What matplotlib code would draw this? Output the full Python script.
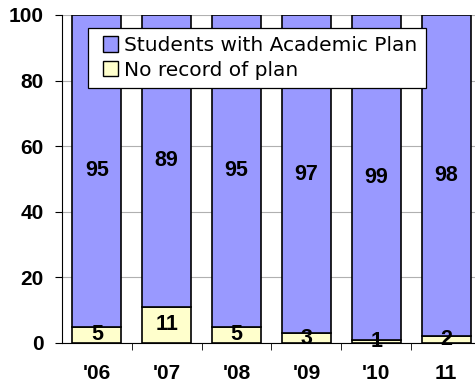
import numpy as np
import matplotlib
matplotlib.use('Agg')
import matplotlib.pyplot as plt
from matplotlib.patches import Patch, Rectangle
from matplotlib.legend_handler import HandlerPatch

plt.rcParams['font.family'] = ['Liberation Sans', 'DejaVu Sans']

years = ["'06", "'07", "'08", "'09", "'10", "11"]
no_plan = [5, 11, 5, 3, 1, 2]
with_plan = [95, 89, 95, 97, 99, 98]

fig = plt.figure(figsize=(4.75, 3.87), dpi=100)
ax = fig.add_axes([62/475., 1 - 343/387., 419/475., 328/387.])

x = np.arange(len(years))
ax.bar(x, no_plan, width=0.7, color='#FFFFCC', edgecolor='k', lw=1.2, zorder=3)
ax.bar(x, with_plan, width=0.7, bottom=no_plan, color='#9999FF', edgecolor='k', lw=1.2, zorder=3)

for i in range(len(years)):
    ax.text(x[i], no_plan[i]/2., str(no_plan[i]), ha='center', va='center',
            fontsize=15.5, fontweight='bold', zorder=5)
    ax.text(x[i], no_plan[i] + with_plan[i]/2., str(with_plan[i]), ha='center', va='center',
            fontsize=15.5, fontweight='bold', zorder=5)

ax.set_xlim(-0.5, 5.5)
ax.set_ylim(0, 100)
ax.set_yticks([0, 20, 40, 60, 80, 100])
ax.set_xticks(x)
ax.set_xticklabels(years, fontsize=15, fontweight='bold')
ax.set_xticks(np.arange(0.5, 5.5, 1), minor=True)
ax.tick_params(axis='x', which='major', length=0, pad=15)
ax.tick_params(axis='x', which='minor', length=5, direction='out')
ax.tick_params(axis='y', length=5, labelsize=15, pad=8)
for lab in ax.get_yticklabels():
    lab.set_fontweight('bold')
ax.yaxis.grid(True, color='#b0b0b0', lw=0.8, zorder=0)
ax.spines['top'].set_visible(False)
ax.spines['right'].set_visible(False)


# small square marker sitting at the right end of the handle slot
def square(legend, orig_handle, xdescent, ydescent, width, height, fontsize):
    s = 11
    return Rectangle((width - s - xdescent, -ydescent + (height - s) / 2.), s, s)


handles = [Patch(facecolor='#9999FF', edgecolor='k', label='Students with Academic Plan'),
           Patch(facecolor='#FFFFCC', edgecolor='k', label='No record of plan')]
leg = ax.legend(handles=handles, loc='upper left', bbox_to_anchor=(26/419., 1 - 13/328.),
                prop={'family': 'DejaVu Sans', 'size': 14.5}, frameon=True, fancybox=False,
                framealpha=1, handlelength=1.1, handleheight=0.7, handletextpad=0.3,
                borderpad=0.4, labelspacing=0.28, borderaxespad=0,
                handler_map={Patch: HandlerPatch(patch_func=square)})
leg.get_frame().set_edgecolor('k')
leg.get_frame().set_linewidth(0.9)
leg.set_zorder(6)

fig.savefig('out.png', dpi=100)
